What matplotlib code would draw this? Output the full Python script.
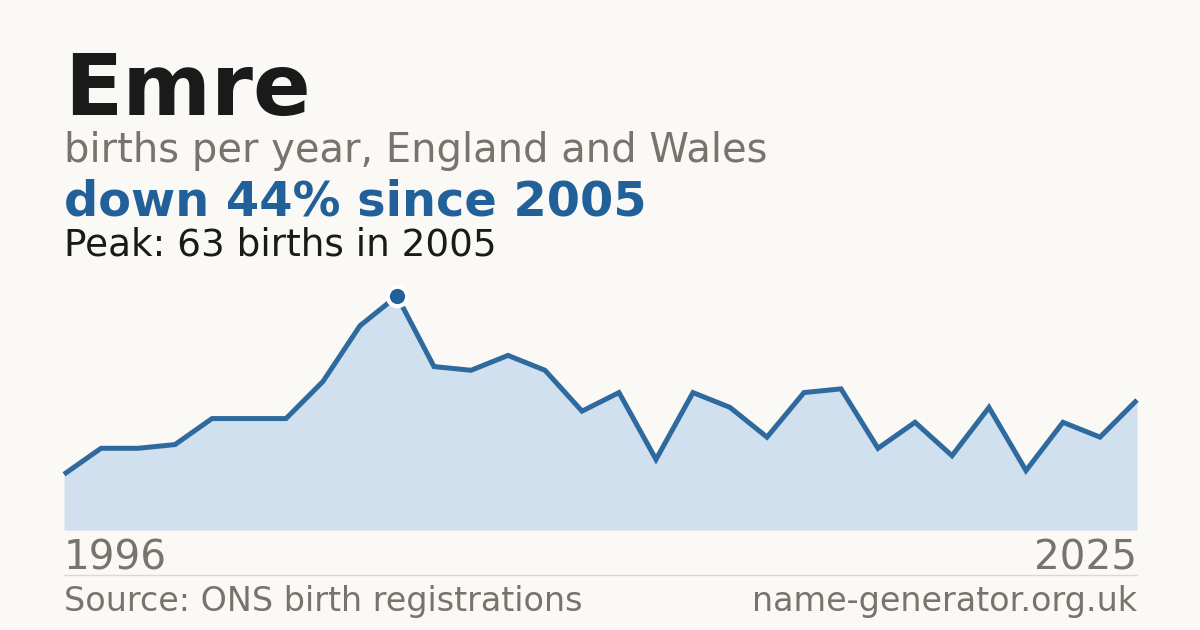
import matplotlib
matplotlib.use("Agg")
import matplotlib.pyplot as plt

years = list(range(1996, 2026))
births = [15, 22, 22, 23, 30, 30, 30, 40, 55, 63, 44, 43, 47, 43, 32, 37, 19, 37, 33, 25,
          37, 38, 22, 29, 20, 33, 16, 29, 25, 35]

name = "Emre"
subtitle = "births per year, England and Wales"
headline = "down 44% since 2005"
peak_text = "Peak: 63 births in 2005"
source = "Source: ONS birth registrations"
site = "name-generator.org.uk"

BG = "#faf9f5"
BLUE = "#216098"
LINE = "#2f6a9e"
FILL = "#d0e0ef"
GRAY = "#78736c"
DARK = "#1a1a1a"

W, H = 1200, 630
fig = plt.figure(figsize=(12, 6.3), dpi=100, facecolor=BG)

def fx(px):
    return px / W

def fy(py):
    return 1 - py / H

ax = fig.add_axes([fx(64), fy(530), fx(1137) - fx(64), fy(296) - fy(530)])
ax.set_facecolor(BG)
ax.patch.set_alpha(0)
ax.fill_between(years, births, 0, color=FILL, linewidth=0)
ax.plot(years, births, color=LINE, linewidth=3.6, solid_joinstyle="miter",
        solid_capstyle="butt", clip_on=False)
pi = births.index(max(births))
ax.plot([years[pi]], [births[pi]], marker="o", markersize=14, color=BLUE,
        markeredgecolor="white", markeredgewidth=3, clip_on=False, zorder=5)
ax.set_xlim(years[0], years[-1])
ax.set_ylim(0, max(births))
ax.axis("off")

fig.text(fx(64), fy(115), name, fontsize=61.3, fontweight="bold", color=DARK, va="baseline", ha="left")
fig.text(fx(64), fy(162), subtitle, fontsize=28.8, color=GRAY, va="baseline", ha="left")
fig.text(fx(64), fy(216), headline, fontsize=34.5, fontweight="bold", color=BLUE, va="baseline", ha="left")
fig.text(fx(64), fy(256), peak_text, fontsize=26.9, color=DARK, va="baseline", ha="left")

fig.text(fx(64), fy(570), str(years[0]), fontsize=29.2, color=GRAY, va="baseline", ha="left")
fig.text(fx(1137), fy(570), str(years[-1]), fontsize=29.2, color=GRAY, va="baseline", ha="right")

fig.add_artist(plt.Line2D([fx(64), fx(1137)], [fy(574.5), fy(574.5)], color="#dcd9d2", linewidth=1))

fig.text(fx(64), fy(611), source, fontsize=24, color=GRAY, va="baseline", ha="left")
fig.text(fx(1137), fy(611), site, fontsize=24, color=GRAY, va="baseline", ha="right")

fig.savefig("out.png", dpi=100, facecolor=BG)
